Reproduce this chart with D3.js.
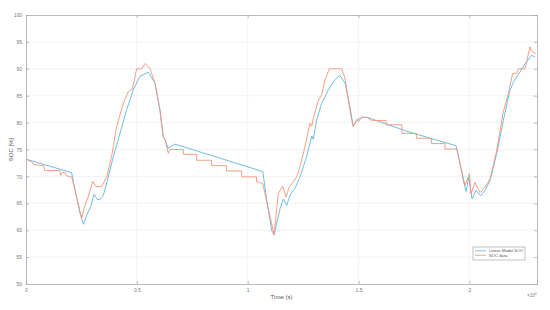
<!DOCTYPE html>
<html>
<head>
<meta charset="utf-8">
<script src="https://cdn.jsdelivr.net/npm/d3@7"></script>
<style>
  body { margin: 0; background: #fff; }
  svg { font-family: "Liberation Sans", Arial, sans-serif; }
</style>
</head>
<body>
<svg id="chart" width="550" height="310"></svg>
<script>
// time in seconds, SOC in %
var modelTime = [0, 2060, 2210, 2440, 2590, 2740, 2920, 3070, 3220, 3340, 3490, 3710, 3940, 4240, 4540, 4840, 5140, 5520, 5820, 6040, 6190, 6270, 6420, 6500, 6720,
  10680, 10860, 11080, 11190, 11460, 11610, 11760, 11910, 12130, 12360, 12660, 12890, 12960, 13110, 13340, 13640, 13940, 14160, 14390, 14610, 14760, 14920, 15140, 15370,
  17320, 19400, 19580, 19730, 19850, 19970, 20120, 20300, 20510, 20700, 20930, 21230, 21530, 21830, 21980, 22280, 22580, 22810, 22960]
var modelSoc = [73.2, 70.7, 67.5, 63.1, 61.1, 62.8, 64.4, 66.7, 65.7, 65.7, 66.5, 69.9, 73.7, 78.0, 82.4, 86.1, 88.6, 89.4, 87.3, 82.4, 77.4, 76.8, 75.2, 75.5, 76.0,
  70.9, 65.6, 60.0, 59.1, 64.0, 65.8, 64.6, 66.5, 67.8, 69.9, 73.7, 77.5, 76.9, 80.5, 83.6, 86.1, 88.0, 88.8, 87.3, 83.0, 79.3, 80.5, 80.9, 81.0,
  78.2, 75.7, 72.3, 69.2, 67.2, 69.8, 65.8, 67.4, 66.4, 67.4, 69.2, 74.2, 80.4, 86.0, 87.5, 89.4, 91.3, 92.5, 92.2]

var dataTime = [0, 300, 330, 800, 850, 1530, 1560, 1640, 1760, 1830, 2060, 2210, 2510, 2660, 2810, 3010, 3160, 3410, 3640, 3860, 4090, 4390, 4620, 4770, 4800, 4990, 5220, 5370, 5590, 5820, 6040, 6190, 6270, 6420, 6500,
  7100, 7100, 7700, 7700, 8370, 8370, 9050, 9050, 9730, 9730, 10400, 10400, 10680, 10860, 11190, 11380, 11580, 11730, 11880, 12060, 12210, 12360, 12580, 12810, 12890, 12960, 13190, 13340, 13490, 13680, 14240, 14390, 14540, 14660, 14760, 14920, 15000, 15140, 15370, 15590,
  16240, 16240, 16960, 16960, 17610, 17610, 18290, 18290, 18900, 18900, 19430, 19650, 19800, 20000, 20070, 20250, 20480, 20700, 20930, 21230, 21530, 21760, 21950, 22130, 22210, 22510, 22580, 22730, 22810, 23000]
var dataSoc = [73.2, 72.6, 72.2, 72.0, 71.1, 71.1, 70.2, 70.7, 70.7, 70.1, 69.9, 67.5, 62.2, 64.7, 66.2, 69.1, 68.1, 68.1, 69.9, 73.7, 79.3, 83.6, 85.8, 86.2, 86.2, 90.0, 90.0, 91.0, 90.1, 87.3, 82.4, 77.4, 76.8, 74.3, 75.0,
  75.0, 74.1, 74.1, 73.0, 73.0, 72.0, 72.0, 71.0, 71.0, 69.9, 69.9, 69.0, 68.7, 65.3, 59.1, 66.8, 68.2, 66.2, 68.1, 69.0, 69.9, 71.8, 75.5, 79.9, 79.3, 80.8, 84.2, 85.2, 88.0, 90.0, 90.0, 88.3, 84.2, 81.1, 79.3, 80.5, 80.2, 81.0, 81.0, 80.4,
  80.4, 79.6, 79.6, 78.0, 78.0, 77.1, 77.1, 76.1, 76.1, 75.1, 75.1, 71.1, 68.3, 70.5, 66.7, 68.9, 67.0, 68.0, 69.5, 74.8, 82.0, 85.4, 89.1, 89.1, 90.0, 90.0, 91.3, 94.1, 93.3, 92.8]

var xTicks = [0, 5000, 10000, 15000, 20000]
var xTickLabels = ['0', '0.5', '1', '1.5', '2']
var yTicks = [50, 55, 60, 65, 70, 75, 80, 85, 90, 95, 100]
var seriesNames = ['Linear Model SOC', 'SOC data']
var seriesColors = ['#62b3e3', '#f29478']

var svg = d3.select('#chart')
var plotL = 26, plotR = 537, plotT = 15, plotB = 284

var x = d3.scaleLinear().domain([0, 23050]).range([plotL, plotR])
var y = d3.scaleLinear().domain([50, 100]).range([plotB, plotT])

// grid
svg.append('g').selectAll('line').data(xTicks.slice(1)).enter().append('line')
  .attr('x1', function (d) { return x(d) }).attr('x2', function (d) { return x(d) })
  .attr('y1', plotT).attr('y2', plotB)
  .attr('stroke', '#efefef').attr('stroke-width', 0.8)
svg.append('g').selectAll('line').data(yTicks.slice(1, -1)).enter().append('line')
  .attr('x1', plotL).attr('x2', plotR)
  .attr('y1', function (d) { return y(d) }).attr('y2', function (d) { return y(d) })
  .attr('stroke', '#efefef').attr('stroke-width', 0.8)

// axes, ticks pointing inwards like matlab
var xAxis = d3.axisBottom(x).tickValues(xTicks).tickSize(-3).tickPadding(4)
  .tickFormat(function (d, i) { return xTickLabels[i] })
var yAxis = d3.axisLeft(y).tickValues(yTicks).tickSize(-3).tickPadding(4)

var gx = svg.append('g').attr('transform', 'translate(0,' + plotB + ')').call(xAxis)
var gy = svg.append('g').attr('transform', 'translate(' + plotL + ',0)').call(yAxis)
var gxt = svg.append('g').attr('transform', 'translate(0,' + plotT + ')')
  .call(d3.axisTop(x).tickValues(xTicks).tickSize(-3).tickFormat(''))
var gyr = svg.append('g').attr('transform', 'translate(' + plotR + ',0)')
  .call(d3.axisRight(y).tickValues(yTicks).tickSize(-3).tickFormat(''))

;[gx, gy, gxt, gyr].forEach(function (g) {
  g.select('.domain').attr('stroke', '#aaa').attr('stroke-width', 0.8)
  g.selectAll('.tick line').attr('stroke', '#aaa').attr('stroke-width', 0.8)
  g.selectAll('.tick text').attr('fill', '#777').attr('font-size', 5)
})

// lines
var line = d3.line()
  .x(function (d) { return x(d[0]) })
  .y(function (d) { return y(d[1]) })

var modelPts = modelTime.map(function (t, i) { return [t, modelSoc[i]] })
var dataPts = dataTime.map(function (t, i) { return [t, dataSoc[i]] })

svg.append('path').datum(modelPts)
  .attr('d', line).attr('fill', 'none')
  .attr('stroke', seriesColors[0]).attr('stroke-width', 0.9)
  .attr('stroke-linejoin', 'round')
svg.append('path').datum(dataPts)
  .attr('d', line).attr('fill', 'none')
  .attr('stroke', seriesColors[1]).attr('stroke-width', 0.9)
  .attr('stroke-linejoin', 'round')

// labels
svg.append('text')
  .attr('x', (plotL + plotR) / 2).attr('y', 299)
  .attr('text-anchor', 'middle').attr('font-size', 6).attr('fill', '#555')
  .text('Time (s)')
svg.append('text')
  .attr('transform', 'translate(13,' + ((plotT + plotB) / 2) + ') rotate(-90)')
  .attr('text-anchor', 'middle').attr('font-size', 6).attr('fill', '#555')
  .text('SOC [%]')
var exp = svg.append('text').attr('x', 527).attr('y', 297)
  .attr('font-size', 4.5).attr('fill', '#777')
exp.append('tspan').text('\u00d710')
exp.append('tspan').attr('dy', -2.2).attr('font-size', 3.3).text('4')

// legend
var lg = svg.append('g').attr('transform', 'translate(473,247)')
lg.append('rect').attr('width', 52).attr('height', 13)
  .attr('fill', '#fff').attr('stroke', '#999').attr('stroke-width', 0.6)
seriesNames.forEach(function (name, i) {
  var yy = 3.8 + i * 4.5
  lg.append('line').attr('x1', 2).attr('x2', 13).attr('y1', yy).attr('y2', yy)
    .attr('stroke', seriesColors[i]).attr('stroke-width', 0.8)
  lg.append('text').attr('x', 16).attr('y', yy + 1.5)
    .attr('font-size', 4.2).attr('fill', '#555').text(name)
})
</script>
</body>
</html>
